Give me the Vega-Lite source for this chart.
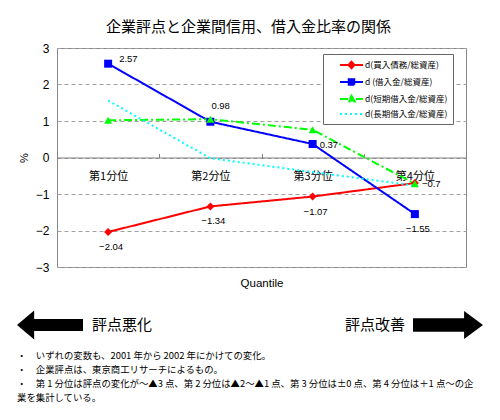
{
  "$schema": "https://vega.github.io/schema/vega-lite/v6.json",
  "padding": {"left": 17, "top": 19, "right": 0, "bottom": 0},
  "background": "white",
  "spacing": 20,
  "datasets": {
    "series": [
      {"q": "第1分位", "s": "d(買入債務/総資産)", "v": -2.04},
      {"q": "第2分位", "s": "d(買入債務/総資産)", "v": -1.34},
      {"q": "第3分位", "s": "d(買入債務/総資産)", "v": -1.07},
      {"q": "第4分位", "s": "d(買入債務/総資産)", "v": -0.7},
      {"q": "第1分位", "s": "d (借入金/総資産)", "v": 2.57},
      {"q": "第2分位", "s": "d (借入金/総資産)", "v": 0.98},
      {"q": "第3分位", "s": "d (借入金/総資産)", "v": 0.37},
      {"q": "第4分位", "s": "d (借入金/総資産)", "v": -1.55},
      {"q": "第1分位", "s": "d(短期借入金/総資産)", "v": 1.02},
      {"q": "第2分位", "s": "d(短期借入金/総資産)", "v": 1.05},
      {"q": "第3分位", "s": "d(短期借入金/総資産)", "v": 0.76},
      {"q": "第4分位", "s": "d(短期借入金/総資産)", "v": -0.72},
      {"q": "第1分位", "s": "d(長期借入金/総資産)", "v": 1.56},
      {"q": "第2分位", "s": "d(長期借入金/総資産)", "v": -0.02},
      {"q": "第3分位", "s": "d(長期借入金/総資産)", "v": -0.4},
      {"q": "第4分位", "s": "d(長期借入金/総資産)", "v": -0.77}
    ],
    "arrows": [
      {"side": "悪化", "label": "評点悪化"},
      {"side": "改善", "label": "評点改善"}
    ]
  },
  "vconcat": [
    {
      "width": 409,
      "height": 219,
      "title": {
        "text": "企業評点と企業間信用、借入金比率の関係",
        "font": "Noto Sans CJK JP",
        "fontSize": 15,
        "fontWeight": "normal",
        "anchor": "middle",
        "frame": "group",
        "dx": -13,
        "offset": 7
      },
      "data": {"name": "series"},
      "encoding": {
        "x": {
          "field": "q",
          "type": "ordinal",
          "sort": ["第1分位", "第2分位", "第3分位", "第4分位"],
          "bandPosition": 0.5,
          "scale": {"type": "band", "paddingInner": 0, "paddingOuter": 0},
          "axis": {
            "offset": -109.5,
            "domainColor": "#808080",
            "tickBand": "extent",
            "tickSize": -4,
            "tickColor": "#808080",
            "labelPadding": 17,
            "labelAngle": 0,
            "labelFont": "Noto Sans CJK JP",
            "labelFontSize": 11,
            "labelColor": "black",
            "grid": false,
            "title": "Quantile",
            "titleY": 120,
            "titleFont": "Liberation Sans",
            "titleFontSize": 11.5,
            "titleFontWeight": "normal",
            "titleColor": "black"
          }
        },
        "y": {
          "field": "v",
          "type": "quantitative",
          "scale": {"domain": [-3, 3]},
          "axis": {
            "values": [-3, -2, -1, 0, 1, 2, 3],
            "title": "%",
            "titleFont": "Liberation Sans",
            "titleFontSize": 11,
            "titleFontWeight": "normal",
            "titleColor": "black",
            "titlePadding": 6,
            "domain": false,
            "ticks": false,
            "labelPadding": 8,
            "labelFont": "Liberation Sans",
            "labelFontSize": 12,
            "labelColor": "black",
            "grid": true,
            "gridColor": "#a0a0a0",
            "gridDash": [4, 3]
          }
        }
      },
      "layer": [
        {
          "mark": {"type": "line", "strokeWidth": 2},
          "encoding": {
            "color": {
              "field": "s",
              "type": "nominal",
              "scale": {
                "domain": ["d(買入債務/総資産)", "d (借入金/総資産)", "d(短期借入金/総資産)", "d(長期借入金/総資産)"],
                "range": ["#ff0000", "#0000ff", "#00ff00", "#00ffff"]
              },
              "legend": {
                "title": null,
                "orient": "none",
                "legendX": 266,
                "legendY": 6,
                "padding": 5,
                "strokeColor": "#666",
                "fillColor": "white",
                "labelFont": "Noto Sans CJK JP",
                "labelFontSize": 8.5,
                "labelColor": "black",
                "labelOffset": 25,
                "rowPadding": 2,
                "symbolSize": 100,
                "symbolStrokeWidth": 2,
                "encode": {
                  "symbols": {
                    "update": {
                      "shape": {"signal": "datum.value === 'd(買入債務/総資産)' ? 'M1.2,0H5.8M3.5,-0.65L4.1,0L3.5,0.65L2.9,0Z' : datum.value === 'd (借入金/総資産)' ? 'M1.2,0H5.8M2.95,-0.55H4.05V0.55H2.95Z' : datum.value === 'd(短期借入金/総資産)' ? 'M1.2,0H5.8M3.5,-0.65L4.15,0.5H2.85Z' : 'M1.2,0H5.8'"},
                      "strokeDash": {"signal": "datum.value === 'd(短期借入金/総資産)' ? [6, 3, 2, 3] : datum.value === 'd(長期借入金/総資産)' ? [2, 3] : [1, 0]"},
                      "fill": {"scale": "color", "field": "value"},
                      "stroke": {"scale": "color", "field": "value"},
                      "opacity": {"value": 1}
                    }
                  }
                }
              }
            },
            "strokeDash": {
              "field": "s",
              "type": "nominal",
              "scale": {
                "domain": ["d(買入債務/総資産)", "d (借入金/総資産)", "d(短期借入金/総資産)", "d(長期借入金/総資産)"],
                "range": [[1, 0], [1, 0], [8, 3, 2, 3], [2, 3]]
              },
              "legend": null
            }
          }
        },
        {
          "transform": [{"filter": "datum.s !== 'd(長期借入金/総資産)'"}],
          "mark": {"type": "point", "filled": true, "opacity": 1, "size": 64},
          "encoding": {
            "color": {"field": "s", "type": "nominal", "legend": null},
            "shape": {
              "field": "s",
              "type": "nominal",
              "scale": {
                "domain": ["d(買入債務/総資産)", "d (借入金/総資産)", "d(短期借入金/総資産)"],
                "range": ["diamond", "square", "triangle-up"]
              },
              "legend": null
            }
          }
        },
        {
          "transform": [{"filter": "datum.s === 'd (借入金/総資産)' && datum.q === '第1分位'"}],
          "mark": {"type": "text", "align": "left", "dx": 11, "dy": -5, "font": "Liberation Sans", "fontSize": 9.5},
          "encoding": {"text": {"field": "v", "type": "quantitative", "format": ".2~f"}}
        },
        {
          "transform": [{"filter": "datum.s === 'd (借入金/総資産)' && datum.q === '第2分位'"}],
          "mark": {"type": "text", "align": "left", "dx": 1, "dy": -16, "font": "Liberation Sans", "fontSize": 9.5},
          "encoding": {"text": {"field": "v", "type": "quantitative", "format": ".2~f"}}
        },
        {
          "transform": [{"filter": "(datum.s === 'd (借入金/総資産)' && datum.q === '第3分位') || (datum.s === 'd(買入債務/総資産)' && datum.q === '第4分位')"}],
          "mark": {"type": "text", "align": "left", "dx": 7, "dy": 1, "font": "Liberation Sans", "fontSize": 9.5},
          "encoding": {"text": {"field": "v", "type": "quantitative", "format": ".2~f"}}
        },
        {
          "transform": [{"filter": "(datum.s === 'd(買入債務/総資産)' && datum.q !== '第4分位') || (datum.s === 'd (借入金/総資産)' && datum.q === '第4分位')"}],
          "mark": {"type": "text", "align": "center", "dx": 3, "dy": 15, "font": "Liberation Sans", "fontSize": 9.5},
          "encoding": {"text": {"field": "v", "type": "quantitative", "format": ".2~f"}}
        }
      ]
    },
    {
      "width": 409,
      "height": 30,
      "view": {"stroke": null},
      "data": {"name": "arrows"},
      "title": {
        "text": [
          "・　いずれの変数も、2001 年から 2002 年にかけての変化。",
          "・　企業評点は、東京商工リサーチによるもの。",
          "・　第 1 分位は評点の変化が～▲3 点、第 2 分位は▲2～▲1 点、第 3 分位は±0 点、第 4 分位は＋1 点～の企",
          "　　業を集計している。"
        ],
        "orient": "bottom",
        "anchor": "start",
        "frame": "group",
        "dx": -40,
        "offset": 12,
        "font": "Noto Sans CJK JP",
        "fontSize": 9.4,
        "fontWeight": "normal",
        "lineHeight": 14,
        "color": "black"
      },
      "encoding": {
        "x": {
          "field": "side",
          "type": "nominal",
          "scale": {"type": "point", "padding": 0, "domain": ["悪化", "改善"], "range": [-7, 391]},
          "axis": null
        }
      },
      "layer": [
        {
          "transform": [{"filter": "datum.side === '悪化'"}],
          "mark": {"type": "point", "filled": true, "color": "black", "opacity": 1, "size": 4356, "shape": "M-1,0L-0.48,-0.44L-0.48,-0.18L1,-0.18L1,0.18L-0.48,0.18L-0.48,0.44Z"}
        },
        {
          "transform": [{"filter": "datum.side === '改善'"}],
          "mark": {"type": "point", "filled": true, "color": "black", "opacity": 1, "size": 4900, "shape": "M1,0L0.46,-0.4L0.46,-0.19L-1,-0.19L-1,0.19L0.46,0.19L0.46,0.4Z"}
        },
        {
          "transform": [{"filter": "datum.side === '悪化'"}],
          "mark": {"type": "text", "align": "left", "dx": 42, "font": "Noto Sans CJK JP", "fontSize": 15, "color": "black"},
          "encoding": {"text": {"field": "label"}}
        },
        {
          "transform": [{"filter": "datum.side === '改善'"}],
          "mark": {"type": "text", "align": "right", "dx": -43, "font": "Noto Sans CJK JP", "fontSize": 15, "color": "black"},
          "encoding": {"text": {"field": "label"}}
        }
      ]
    }
  ],
  "config": {
    "view": {"stroke": "#888888"},
    "font": "Liberation Sans"
  }
}
